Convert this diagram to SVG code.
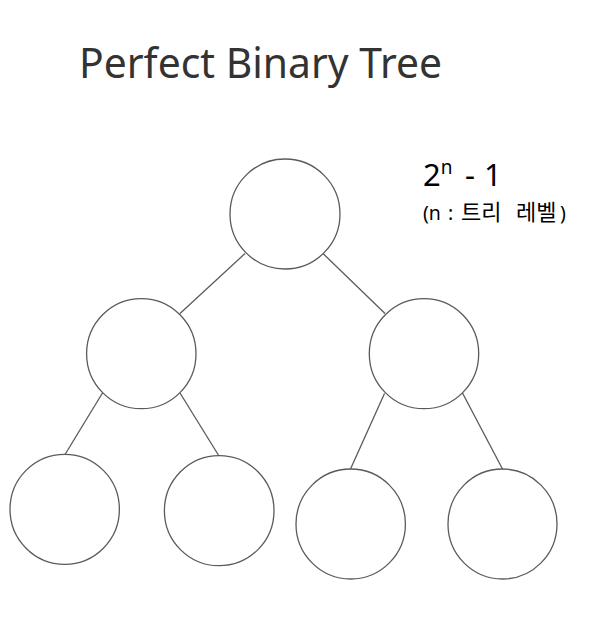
<svg xmlns="http://www.w3.org/2000/svg" width="603" height="617" viewBox="0 0 603 617">
<style>
.node{fill:#ffffff;stroke:#5a5a5a;stroke-width:1.3}
.edge{stroke:#5a5a5a;stroke-width:1.3;fill:none}
.title{font-family:"Noto Sans","Open Sans","Noto Sans CJK KR",sans-serif;font-size:42px;fill:#333333}
.formula{font-family:"Noto Sans","Noto Sans CJK KR",sans-serif;fill:#000000}
</style>
<rect width="603" height="617" fill="#ffffff"/>
<text class="title" x="79" y="78" textLength="363" lengthAdjust="spacingAndGlyphs">Perfect Binary Tree</text>
<g id="formula">
<text class="formula" x="423" y="186" font-size="31">2<tspan font-size="19" dy="-12">n</tspan><tspan x="465" dy="12">-</tspan><tspan x="484">1</tspan></text>
<text class="formula" y="220" font-size="19.5" font-family="Noto Sans CJK KR, sans-serif"><tspan x="423">(n</tspan><tspan x="448">:</tspan><tspan x="461" font-size="22">트리</tspan><tspan x="516" font-size="22">레벨</tspan><tspan x="560">)</tspan></text>
</g>
<g id="connectors">
<line class="edge" x1="245" y1="253.5" x2="180" y2="313.5"/>
<line class="edge" x1="323" y1="253.5" x2="385" y2="313.5"/>
<line class="edge" x1="102.5" y1="393" x2="65" y2="454.5"/>
<line class="edge" x1="180" y1="393" x2="219" y2="456"/>
<line class="edge" x1="384.5" y1="393.5" x2="350.5" y2="469"/>
<line class="edge" x1="462.5" y1="393" x2="502.5" y2="469"/>
</g>
<g id="node-root"><ellipse class="node" cx="285" cy="214" rx="55" ry="55"/></g>
<g id="node-l"><ellipse class="node" cx="141.3" cy="353.7" rx="54.7" ry="55"/></g>
<g id="node-r"><ellipse class="node" cx="424" cy="353.7" rx="54.7" ry="55"/></g>
<g id="node-ll"><ellipse class="node" cx="64.7" cy="509.3" rx="54.7" ry="55"/></g>
<g id="node-lr"><ellipse class="node" cx="219.2" cy="510.7" rx="54.8" ry="55"/></g>
<g id="node-rl"><ellipse class="node" cx="350.7" cy="524" rx="54.7" ry="55"/></g>
<g id="node-rr"><ellipse class="node" cx="502.5" cy="524" rx="54.5" ry="55"/></g>
</svg>
